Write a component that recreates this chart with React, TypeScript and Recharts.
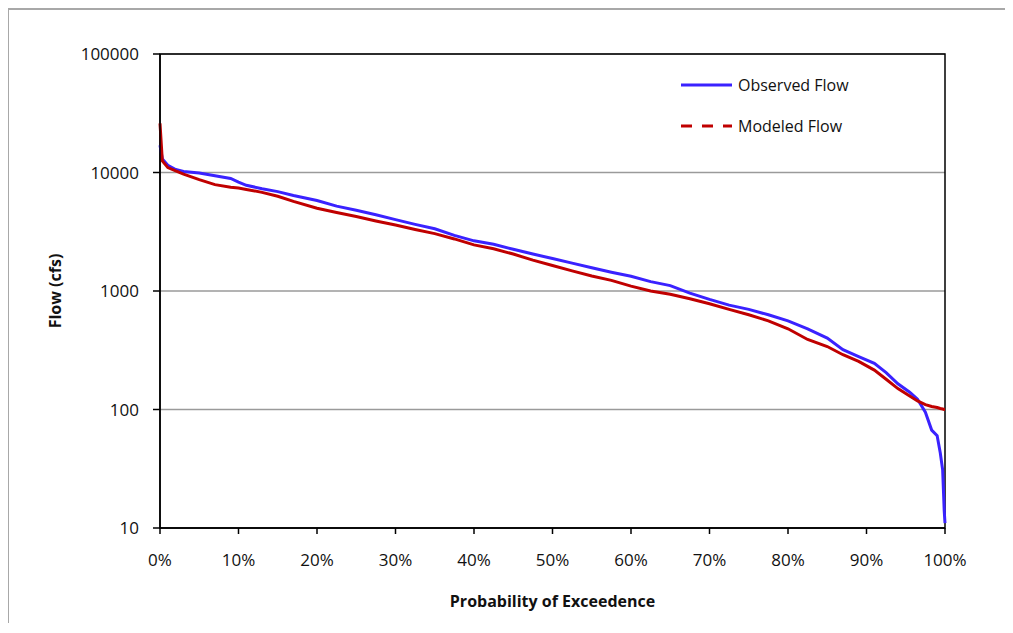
import { LineChart, Line, XAxis, YAxis, CartesianGrid, ReferenceArea } from 'recharts';

// probability of exceedence (%)
const exceedence = [
  0, 0.3, 1, 2, 3, 5, 7, 9, 10, 11, 13, 15, 17, 20, 22.5, 25, 27.5, 30, 32.5, 35,
  37.5, 40, 42.5, 45, 47.5, 50, 52.5, 55, 57.5, 60, 62.5, 65, 67.5, 70, 72.5, 75,
  77.5, 80, 82.5, 85, 87, 89, 91, 92.5, 94, 95.5, 96.5, 97.5, 98.3, 99, 99.4, 99.7, 99.9, 100,
];

// flow values (cfs)
const observedFlow = [
  17000, 13000, 11500, 10600, 10200, 9900, 9400, 8900, 8300, 7800, 7300, 6900, 6400, 5800,
  5200, 4800, 4400, 4000, 3650, 3350, 2950, 2650, 2480, 2250, 2050, 1880, 1720, 1570, 1440,
  1330, 1200, 1110, 960, 850, 760, 700, 630, 560, 480, 400, 320, 280, 245, 205, 165, 140,
  122, 95, 67, 60, 43, 31, 14, 11,
];

const modeledFlow = [
  26000, 12500, 11000, 10300, 9700, 8700, 7900, 7500, 7400, 7200, 6800, 6300, 5700, 5000,
  4600, 4250, 3900, 3600, 3300, 3050, 2750, 2450, 2270, 2050, 1820, 1640, 1480, 1340, 1230,
  1100, 1000, 940, 860, 780, 700, 630, 560, 480, 390, 340, 290, 255, 215, 180, 150, 130,
  118, 110, 106, 104, 102, 101, 100, 100,
];

const xTicks = [0, 10, 20, 30, 40, 50, 60, 70, 80, 90, 100];
const yTicks = [10, 100, 1000, 10000, 100000];

const rows = exceedence.map((p, i) => ({ p, observed: observedFlow[i], modeled: modeledFlow[i] }));

const FONT = '"Open Sans", sans-serif';
const BLUE = '#3a22ff';
const RED = '#c00000';

function FlowLegend() {
  const item = (label: string, color: string, dash?: string) => (
    <div style={{ display: 'flex', alignItems: 'center', height: 24 }}>
      <svg width={54} height={6}>
        <line x1={1} y1={3} x2={52} y2={3} stroke={color} strokeWidth={3} strokeDasharray={dash} />
      </svg>
      <span style={{ marginLeft: 4, fontFamily: FONT, fontSize: 16, color: '#111' }}>{label}</span>
    </div>
  );
  return (
    <div style={{ position: 'absolute', left: 672, top: 65, width: 220 }}>
      {item('Observed Flow', BLUE)}
      <div style={{ height: 17 }} />
      {item('Modeled Flow', RED, '11 10')}
    </div>
  );
}

export default function App() {
  return (
    <div style={{ position: 'relative', width: 1000, height: 615 }}>
      <div
        style={{
          position: 'absolute', left: -1, top: 0, width: 1006, height: 625,
          borderLeft: '2px solid #a8a8a8', borderTop: '2px solid #a8a8a8',
        }}
      />
      <LineChart
        width={1000}
        height={615}
        data={rows}
        margin={{ top: 46, right: 63, left: 42, bottom: 65 }}
      >
        <CartesianGrid vertical={false} stroke="#9a9a9a" strokeWidth={1.5} />
        <XAxis
          type="number"
          dataKey="p"
          domain={[0, 100]}
          ticks={xTicks}
          tickFormatter={(v) => `${v}%`}
          tickSize={6}
          tickMargin={20}
          axisLine={{ stroke: '#000', strokeWidth: 1.5 }}
          tickLine={{ stroke: '#000', strokeWidth: 1.5 }}
          tick={{ fill: '#111', fontSize: 17, fontFamily: FONT }}
          label={{
            value: 'Probability of Exceedence',
            position: 'bottom',
            offset: 38,
            style: { fill: '#111', fontSize: 16, fontWeight: 700, fontFamily: FONT },
          }}
        />
        <YAxis
          scale="log"
          domain={[10, 100000]}
          ticks={yTicks}
          allowDataOverflow
          width={110}
          tickSize={7}
          tickMargin={14}
          axisLine={{ stroke: '#000', strokeWidth: 1.5 }}
          tickLine={{ stroke: '#000', strokeWidth: 1.5 }}
          tick={{ fill: '#111', fontSize: 17, fontFamily: FONT }}
          label={{
            value: 'Flow (cfs)',
            angle: -90,
            position: 'insideLeft',
            offset: 5,
            style: { textAnchor: 'middle', fill: '#111', fontSize: 16, fontWeight: 700, fontFamily: FONT },
          }}
        />
        <ReferenceArea x1={0} x2={100} y1={10} y2={100000} fill="none" stroke="#000" strokeWidth={1.5} />
        <Line
          type="linear"
          dataKey="observed"
          stroke={BLUE}
          strokeWidth={3}
          dot={false}
          isAnimationActive={false}
        />
        <Line
          type="linear"
          dataKey="modeled"
          stroke={RED}
          strokeWidth={3}
          dot={false}
          isAnimationActive={false}
        />
      </LineChart>
      <FlowLegend />
    </div>
  );
}
